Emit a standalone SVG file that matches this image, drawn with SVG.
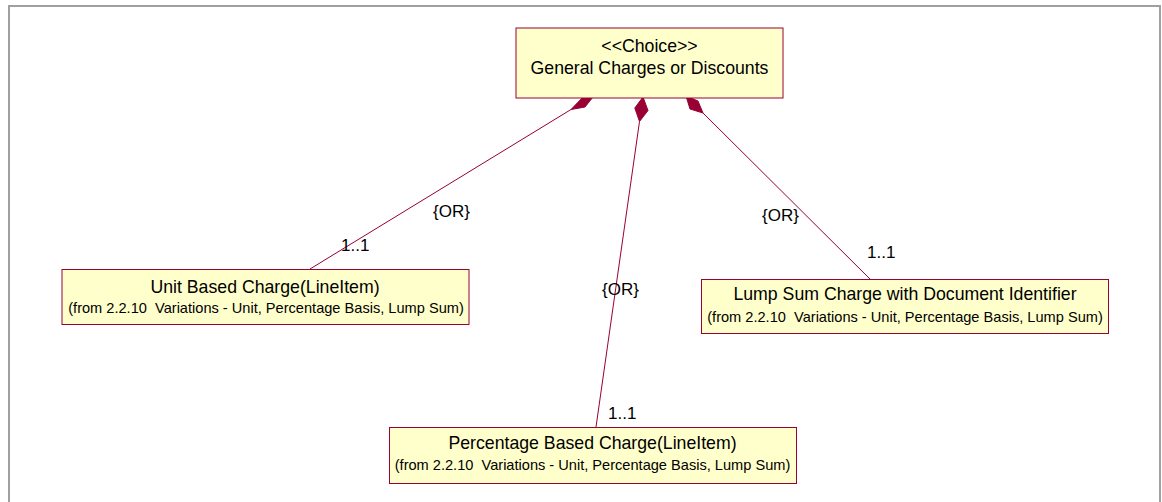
<svg xmlns="http://www.w3.org/2000/svg" width="1162" height="502" viewBox="0 0 1162 502">
  <style>
    .frame { fill: none; stroke: #a0a0a0; stroke-width: 2; }
    .box { fill: #ffffcc; stroke: #990033; stroke-width: 1; }
    .title { font-family: "Liberation Sans", Arial, sans-serif; font-size: 17.7px; fill: #000; text-anchor: middle; }
    .sub { font-family: "Liberation Sans", Arial, sans-serif; font-size: 14.6px; fill: #000; text-anchor: middle; white-space: pre; }
    .lbl { font-family: "Liberation Sans", Arial, sans-serif; font-size: 17px; fill: #000; }
    .link { stroke: #990033; stroke-width: 1; fill: none; }
    .diamond { fill: #990033; stroke: #990033; stroke-width: 1; }
  </style>
  <rect width="1162" height="502" fill="#ffffff"/>
  <rect class="frame" x="9" y="6" width="1151" height="600"/>

  <!-- composition links from the choice class to its alternatives -->
  <g id="connectors">
    <g id="link-unit">
      <line class="link" x1="310" y1="269" x2="571" y2="109.5"/>
      <polygon class="diamond" points="571,109.5 582.5,97.6 595,94.5 585,107"/>
      <text class="lbl" x="433" y="217">{OR}</text>
      <text class="lbl" x="341" y="251">1..1</text>
    </g>
    <g id="link-percentage">
      <line class="link" x1="596" y1="427" x2="639.5" y2="121.5"/>
      <polygon class="diamond" points="639.5,121.5 634.8,108 643,97 648,110.5"/>
      <text class="lbl" x="602" y="295">{OR}</text>
      <text class="lbl" x="608" y="419">1..1</text>
    </g>
    <g id="link-lumpsum">
      <line class="link" x1="870" y1="279" x2="703" y2="113"/>
      <polygon class="diamond" points="703,113 690,109 686,96 698,101"/>
      <text class="lbl" x="762" y="221">{OR}</text>
      <text class="lbl" x="867" y="258">1..1</text>
    </g>
  </g>

  <g id="choice">
    <rect class="box" x="516" y="28" width="267" height="70"/>
    <text class="title" x="649.5" y="51.5">&lt;&lt;Choice&gt;&gt;</text>
    <text class="title" x="649.5" y="73.5">General Charges or Discounts</text>
  </g>

  <g id="unit-based">
    <rect class="box" x="62" y="269.5" width="407" height="55"/>
    <text class="title" x="265" y="293">Unit Based Charge(LineItem)</text>
    <text class="sub" x="266" y="312.5">(from 2.2.10  Variations - Unit, Percentage Basis, Lump Sum)</text>
  </g>

  <g id="lump-sum">
    <rect class="box" x="701.5" y="279.5" width="407" height="54"/>
    <text class="title" x="905" y="300">Lump Sum Charge with Document Identifier</text>
    <text class="sub" x="905" y="321.5">(from 2.2.10  Variations - Unit, Percentage Basis, Lump Sum)</text>
  </g>

  <g id="percentage-based">
    <rect class="box" x="389.5" y="427.5" width="407" height="56"/>
    <text class="title" x="592.5" y="449">Percentage Based Charge(LineItem)</text>
    <text class="sub" x="592.5" y="469.5">(from 2.2.10  Variations - Unit, Percentage Basis, Lump Sum)</text>
  </g>
</svg>
